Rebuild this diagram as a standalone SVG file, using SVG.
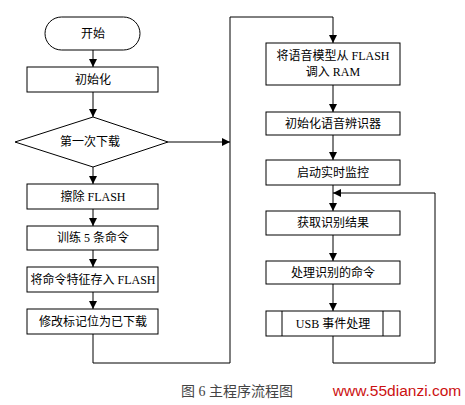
<svg xmlns="http://www.w3.org/2000/svg" width="465" height="405" viewBox="0 0 465 405">
<defs>
<marker id="ah" markerWidth="8" markerHeight="8" refX="8" refY="4" orient="auto" markerUnits="userSpaceOnUse">
<path d="M0,0 L8,4 L0,8 Z" fill="#000"/>
</marker>
<style>
.b{fill:#fff;stroke:#000;stroke-width:1}
.t{font-family:"Liberation Serif","Noto Sans CJK SC",serif;font-size:12px;fill:#000;text-anchor:middle}
.c{fill:none;stroke:#000;stroke-width:1}
</style>
</defs>
<rect width="465" height="405" fill="#fff"/>
<g id="connectors">
<path class="c" d="M93,50 V67" marker-end="url(#ah)"/>
<path class="c" d="M93,92 V117" marker-end="url(#ah)"/>
<path class="c" d="M168,142 H230" marker-end="url(#ah)"/>
<path class="c" d="M93,167 V184" marker-end="url(#ah)"/>
<path class="c" d="M93,209 V226" marker-end="url(#ah)"/>
<path class="c" d="M93,250 V267" marker-end="url(#ah)"/>
<path class="c" d="M93,292 V309" marker-end="url(#ah)"/>
<path class="c" d="M93,334 V363 H230 V17 H333 V43" marker-end="url(#ah)"/>
<path class="c" d="M333,85 V112" marker-end="url(#ah)"/>
<path class="c" d="M333,135 V160" marker-end="url(#ah)"/>
<path class="c" d="M333,185 V211" marker-end="url(#ah)"/>
<path class="c" d="M333,235 V261" marker-end="url(#ah)"/>
<path class="c" d="M333,284 V311" marker-end="url(#ah)"/>
<path class="c" d="M333,336 V363 H435 V193 H333" marker-end="url(#ah)"/>
</g>
<g id="start"><rect class="b" x="45" y="17" width="95" height="33" rx="16.5"/><text class="t" x="93" y="38">开始</text></g>
<g id="init"><rect class="b" x="27" y="67" width="131" height="25"/><text class="t" x="93" y="84">初始化</text></g>
<g id="decision"><path class="b" d="M93,117 L168,142 L93,167 L15,142 Z"/><text class="t" x="90" y="146">第一次下载</text></g>
<g id="erase"><rect class="b" x="27" y="184" width="131" height="25"/><text class="t" x="93" y="201">擦除 FLASH</text></g>
<g id="train"><rect class="b" x="27" y="226" width="131" height="24"/><text class="t" x="93" y="242">训练 5 条命令</text></g>
<g id="store"><rect class="b" x="27" y="267" width="131" height="25"/><text class="t" x="93" y="284">将命令特征存入 FLASH</text></g>
<g id="mark"><rect class="b" x="27" y="309" width="131" height="25"/><text class="t" x="93" y="326">修改标记位为已下载</text></g>
<g id="load"><rect class="b" x="266" y="43" width="134" height="42"/><text class="t" x="333" y="60">将语音模型从 FLASH</text><text class="t" x="333" y="76">调入 RAM</text></g>
<g id="initrec"><rect class="b" x="266" y="112" width="134" height="23"/><text class="t" x="333" y="128">初始化语音辨识器</text></g>
<g id="monitor"><rect class="b" x="266" y="160" width="134" height="25"/><text class="t" x="333" y="177">启动实时监控</text></g>
<g id="get"><rect class="b" x="266" y="211" width="134" height="24"/><text class="t" x="333" y="227">获取识别结果</text></g>
<g id="process"><rect class="b" x="266" y="261" width="134" height="23"/><text class="t" x="333" y="277">处理识别的命令</text></g>
<g id="usb"><rect class="b" x="266" y="311" width="134" height="25"/><path class="c" d="M282,311 V336 M383,311 V336"/><text class="t" x="333" y="328">USB 事件处理</text></g>
<text x="237" y="396" style="font-family:'Liberation Serif','Noto Sans CJK SC',serif;font-size:14px;fill:#444;text-anchor:middle">图 6  主程序流程图</text>
<text x="397" y="396" style="font-family:'Liberation Sans',sans-serif;font-size:15.5px;fill:#cc1111;text-anchor:middle">www.55dianzi.com</text>
</svg>
